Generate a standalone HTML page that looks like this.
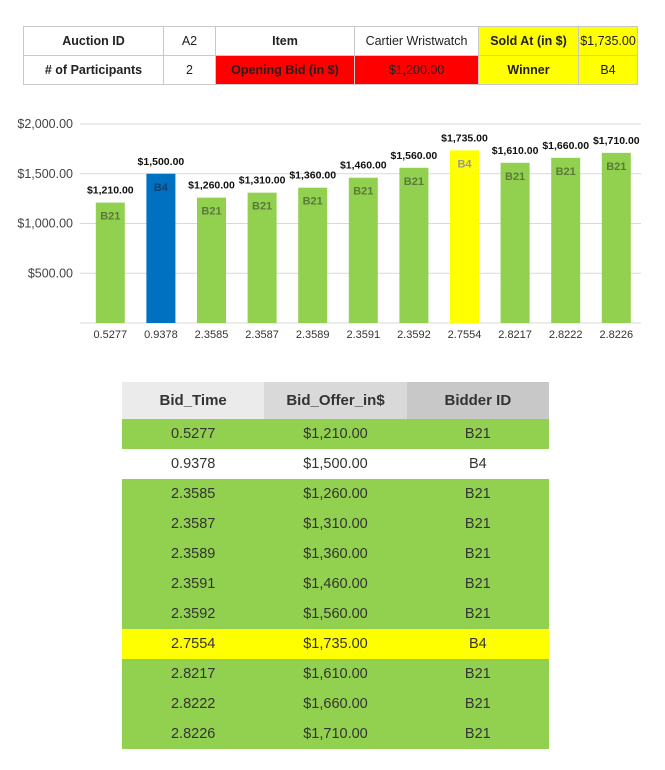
<!DOCTYPE html>
<html><head><meta charset="utf-8"><style>
body{margin:0;width:665px;height:770px;background:#fff;font-family:"Liberation Sans",sans-serif;position:relative;overflow:hidden}
table{border-collapse:collapse;position:absolute;table-layout:fixed}
#info td{border:1px solid #c8c8c8;height:28px;text-align:center;font-size:12.5px;color:#222;padding:0}
#info{left:23px;top:26px;width:614px;border:1px solid #999}
.b{font-weight:bold}
.r{background:#ff0000}.y{background:#ffff00}
#bids{left:122px;top:382px;width:427px}
#bids td{height:30px;text-align:center;font-size:14.5px;color:#333;padding:0}
#bids th{height:35px;font-size:15px;color:#333;font-weight:bold}
.g td{background:#92d050}
.yy td{background:#ffff00}
.w td{background:#fff}
</style></head><body>
<table id="info">
<colgroup><col style="width:140px"><col style="width:52px"><col style="width:139px"><col style="width:124px"><col style="width:100px"><col style="width:59px"></colgroup>
<tr><td class="b">Auction ID</td><td>A2</td><td class="b">Item</td><td>Cartier Wristwatch</td><td class="b y">Sold At (in $)</td><td class="y">$1,735.00</td></tr>
<tr><td class="b"># of Participants</td><td>2</td><td class="b r">Opening Bid (in $)</td><td class="r">$1,200.00</td><td class="b y">Winner</td><td class="y">B4</td></tr>
</table>

<svg id="chart" width="665" height="360" style="position:absolute;left:0;top:0"></svg>

<table id="bids">
<tr><th style="background:#ebebeb">Bid_Time</th><th style="background:#d9d9d9">Bid_Offer_in$</th><th style="background:#c8c8c8">Bidder ID</th></tr>
<tbody id="tb"></tbody>
</table>

<script>
const categories=["0.5277","0.9378","2.3585","2.3587","2.3589","2.3591","2.3592","2.7554","2.8217","2.8222","2.8226"];
const values=[1210,1500,1260,1310,1360,1460,1560,1735,1610,1660,1710];
const bidders=["B21","B4","B21","B21","B21","B21","B21","B4","B21","B21","B21"];
const yTicks=[500,1000,1500,2000];
const barColors=["#92d050","#0070c0","#92d050","#92d050","#92d050","#92d050","#92d050","#ffff00","#92d050","#92d050","#92d050"];

const NS="http://www.w3.org/2000/svg";
const svg=document.getElementById('chart');
const x0=85,band=50.6,barW=29,y0=323,yMax=2000,yTop=124;
const yScale=v=>y0-(v/yMax)*(y0-yTop);
const xScale=i=>x0+band*i+band/2;
const fmt=v=>"$"+v.toLocaleString("en-US",{minimumFractionDigits:2});
function mk(t,a){const e=document.createElementNS(NS,t);for(const k in a)e.setAttribute(k,a[k]);svg.appendChild(e);return e;}
yTicks.forEach(t=>{
 const l=mk('line',{x1:80,x2:641,y1:yScale(t),y2:yScale(t),stroke:'#d9d9d9','stroke-width':1});
 
 
 const tx=mk('text',{x:73,y:yScale(t)+4,'text-anchor':'end','font-size':12.5,fill:'#444','font-family':'Liberation Sans'});
 tx.textContent=fmt(t);
 
 
});
const ax=mk('line',{x1:80,x2:641,y1:y0,y2:y0,stroke:'#d9d9d9','stroke-width':1});


categories.forEach((c,i)=>{
 const cx=xScale(i),y=yScale(values[i]);
 const r=mk('rect',{x:cx-barW/2,y:y,width:barW,height:y0-y,fill:barColors[i]});
 
 
 const v=mk('text',{x:cx,y:y-9,'text-anchor':'middle','font-size':10.5,'font-weight':'bold',fill:'#111','font-family':'Liberation Sans'});
 v.textContent=fmt(values[i]);
 
 
 const b=mk('text',{x:cx,y:y+17,'text-anchor':'middle','font-size':11,'font-weight':'bold',fill:'#5a7a3a','font-family':'Liberation Sans'});
 if(barColors[i]==="#0070c0")b.setAttribute('fill','#163e6a');
 if(barColors[i]==="#ffff00")b.setAttribute('fill','#999');
 b.textContent=bidders[i];
 
 
 const xl=mk('text',{x:cx,y:y0+15,'text-anchor':'middle','font-size':11,fill:'#333','font-family':'Liberation Sans'});
 xl.textContent=c;
 
 
});
const tb=document.getElementById('tb');
categories.forEach((c,i)=>{
 const tr=document.createElement('tr');
 tr.className=barColors[i]==="#92d050"?"g":(barColors[i]==="#ffff00"?"yy":"w");
 
 
 [c,fmt(values[i]),bidders[i]].forEach(t=>{const td=document.createElement('td');td.textContent=t;tr.appendChild(td);});
 tb.appendChild(tr);
});
</script>
</body></html>
